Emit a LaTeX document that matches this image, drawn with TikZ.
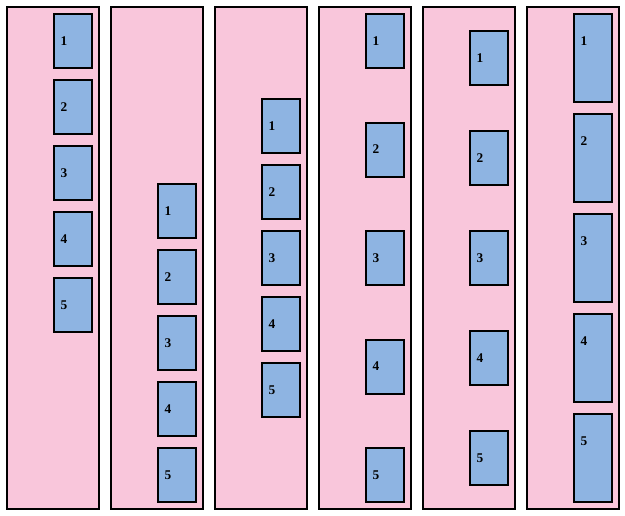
\documentclass[tikz,border=0pt]{standalone}
\usepackage{fontspec}
\setmainfont{Liberation Serif}
\definecolor{colpink}{HTML}{F9C6DB}
\definecolor{boxblue}{HTML}{8EB4E2}
\begin{document}
\begin{tikzpicture}[x=0.75pt,y=-0.75pt,
  column/.style={draw=black,fill=colpink,line width=1.5pt},
  blk/.style={draw=black,fill=boxblue,line width=1.5pt,outer sep=0pt},
  lbl/.style={font=\bfseries\fontsize{10}{10}\selectfont,inner sep=0pt}]
\useasboundingbox (0,0) rectangle (625,515);
% columns
\foreach \i in {0,...,5}{
  \draw[column] ({7+104*\i},7) rectangle ({99+104*\i},509);
}
\newcommand{\mybox}[5]{% #1 name, #2 left x, #3 top y, #4 height, #5 label
  \pgfmathsetmacro{\bx}{#2}\pgfmathsetmacro{\by}{#3}%
  \node[blk,minimum width=28.5pt,minimum height={#4*0.75pt},inner sep=0pt,anchor=north west] (#1) at (\bx,\by) {};
  \node[lbl] (#1t) at ({\bx+10},{\by+27}) {#5};
}
\foreach \n in {1,...,5}{
  \mybox{a\n}{54}{14+66*(\n-1)}{54}{\n}
  \mybox{b\n}{158}{184+66*(\n-1)}{54}{\n}
  \mybox{c\n}{262}{99+66*(\n-1)}{54}{\n}
  \mybox{d\n}{366}{14+108.5*(\n-1)}{54}{\n}
  \mybox{e\n}{470}{31+100*(\n-1)}{54}{\n}
  \mybox{f\n}{574}{14+100*(\n-1)}{88}{\n}
}
\end{tikzpicture}
\end{document}
